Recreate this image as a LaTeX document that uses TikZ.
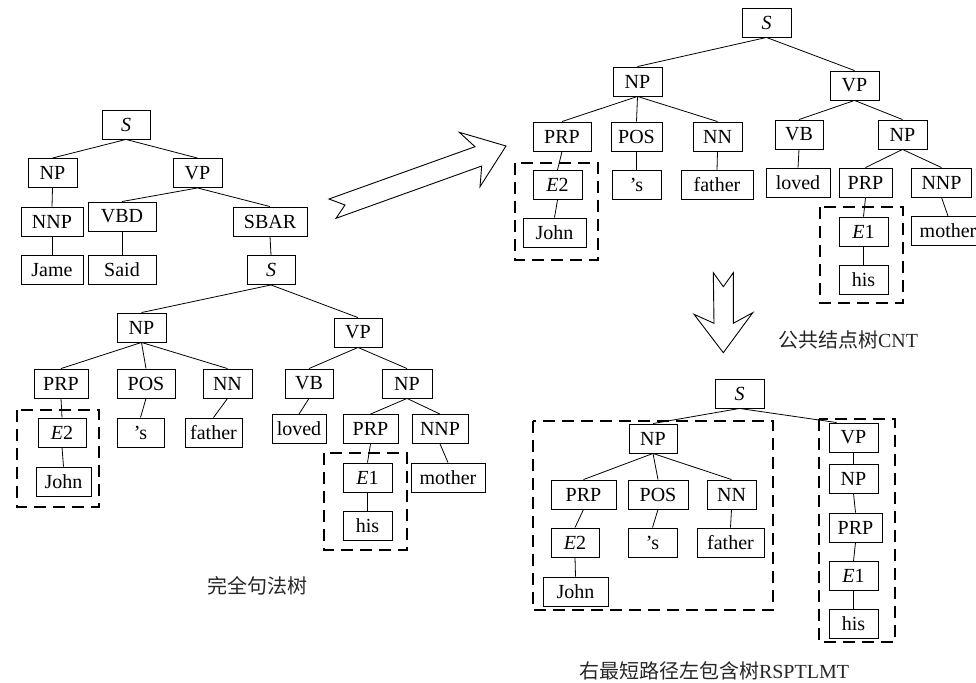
\documentclass[tikz,border=0pt]{standalone}
\usepackage{fontspec}
\setmainfont{Liberation Serif}
\newfontfamily\cjk{Noto Sans CJK SC}
\begin{document}
\begin{tikzpicture}[x=1pt,y=-1pt,
  bx/.style={draw=black,line width=0.9pt,minimum height=29pt,inner sep=0pt,
    font=\fontsize{20}{24}\selectfont,anchor=center},
  ln/.style={draw=black,line width=0.8pt},
  dbox/.style={draw=black,line width=2.4pt,dash pattern=on 12pt off 7pt},
  bigarrow/.style={draw=black,line width=0.9pt,fill=white,line join=miter},
  lbl/.style={font=\fontsize{20}{24}\selectfont,text=black!85,inner sep=0pt}]
\useasboundingbox (0,0) rectangle (976,682);
% ---------- left: full parse tree ----------
\node[bx,minimum width=48] (S1) at (126,124.5) {\textit{S}};
\node[bx,minimum width=49] (NP1) at (52.5,173) {NP};
\node[bx,minimum width=49] (VP1) at (197.5,173) {VP};
\node[bx,minimum width=62] (NNP1) at (52,221.5) {NNP};
\node[bx,minimum width=68] (VBD1) at (122,216.5) {VBD};
\node[bx,minimum width=74] (SBAR1) at (270,221.5) {SBAR};
\node[bx,minimum width=62] (Jame1) at (52,270) {Jame};
\node[bx,minimum width=68] (Said1) at (122,270) {Said};
\node[bx,minimum width=48] (S2) at (271,270) {\textit{S}};
\node[bx,minimum width=49] (NPa) at (141.5,327.5) {NP};
\node[bx,minimum width=48] (VPa) at (358,332.5) {VP};
\node[bx,minimum width=54] (PRPa) at (61,383.5) {PRP};
\node[bx,minimum width=58] (POSa) at (146,383.5) {POS};
\node[bx,minimum width=49] (NNa) at (227.5,383.5) {NN};
\node[bx,minimum width=48] (VBa) at (309,383.5) {VB};
\node[bx,minimum width=50] (NPb) at (407,383.5) {NP};
\node[bx,minimum width=48] (E2a) at (62,432.5) {\textit{E}2};
\node[bx,minimum width=47] (sa) at (140.5,432.5) {'s};
\node[bx,minimum width=57] (fathera) at (213.5,432.5) {father};
\node[bx,minimum width=54] (loveda) at (299,429) {loved};
\node[bx,minimum width=55] (PRPb) at (370.5,429) {PRP};
\node[bx,minimum width=56] (NNPb) at (440,429) {NNP};
\node[bx,minimum width=49] (E1a) at (367.5,477.5) {\textit{E}1};
\node[bx,minimum width=74] (mothera) at (448,477.5) {mother};
\node[bx,minimum width=55] (Johna) at (63.5,481.5) {John};
\node[bx,minimum width=49] (hisa) at (367.5,526) {his};
\foreach \p/\c in {S1/NP1,S1/VP1,NP1/NNP1,NNP1/Jame1,VP1/VBD1,VP1/SBAR1,VBD1/Said1,
  SBAR1/S2,S2/NPa,S2/VPa,NPa/PRPa,NPa/POSa,NPa/NNa,PRPa/E2a,E2a/Johna,POSa/sa,
  NNa/fathera,VPa/VBa,VPa/NPb,VBa/loveda,NPb/PRPb,NPb/NNPb,PRPb/E1a,E1a/hisa,NNPb/mothera}
  \draw[ln] (\p.south) -- (\c.north);
\draw[dbox] (17,410) rectangle (99,507);
\draw[dbox] (324,453) rectangle (407,550);
\node[lbl] (L1) at (257,586) {\cjk 完全句法树};
% ---------- big arrow ----------
\draw[bigarrow] (329,199) -- (475,146.7) -- (459.3,132.3) -- (506,146) -- (480,186.7)
  -- (481.7,166) -- (336,218.3) -- (345,205) -- cycle;
% ---------- top right: common node tree ----------
\node[bx,minimum width=49] (S3) at (766.5,22.5) {\textit{S}};
\node[bx,minimum width=49] (NP3) at (637.5,81.5) {NP};
\node[bx,minimum width=49] (VP3) at (854.5,85.5) {VP};
\node[bx,minimum width=58] (PRP3) at (562,136.5) {PRP};
\node[bx,minimum width=51] (POS3) at (636.5,136.5) {POS};
\node[bx,minimum width=49] (NN3) at (717.5,136.5) {NN};
\node[bx,minimum width=48] (VB3) at (799,134.5) {VB};
\node[bx,minimum width=49] (NP4) at (902.5,134.5) {NP};
\node[bx,minimum width=49] (E23) at (557.5,185) {\textit{E}2};
\node[bx,minimum width=49] (s3) at (636.5,185) {'s};
\node[bx,minimum width=72] (father3) at (717,185) {father};
\node[bx,minimum width=64] (loved3) at (798,182.5) {loved};
\node[bx,minimum width=53] (PRP4) at (865.5,182.5) {PRP};
\node[bx,minimum width=60] (NNP4) at (941.5,182.5) {NNP};
\node[bx,minimum width=63] (John3) at (554.5,232.5) {John};
\node[bx,minimum width=49] (E13) at (863.5,231.5) {\textit{E}1};
\node[bx,minimum width=73] (mother3) at (948,231) {mother};
\node[bx,minimum width=49] (his3) at (863.5,279.5) {his};
\foreach \p/\c in {S3/NP3,S3/VP3,NP3/PRP3,NP3/POS3,NP3/NN3,PRP3/E23,E23/John3,POS3/s3,
  NN3/father3,VP3/VB3,VP3/NP4,VB3/loved3,NP4/PRP4,NP4/NNP4,PRP4/E13,E13/his3,NNP4/mother3}
  \draw[ln] (\p.south) -- (\c.north);
\draw[dbox] (515,163) rectangle (598,260);
\draw[dbox] (820,207) rectangle (903,303);
% ---------- down arrow ----------
\draw[bigarrow] (713.3,272.7) -- (723.3,286.7) -- (733.3,272.7) -- (733.3,323.3)
  -- (752.7,312.7) -- (723.3,352.7) -- (694,314.3) -- (714,323.3) -- cycle;
\node[lbl] (L2) at (848,340) {{\cjk 公共结点树}CNT};
% ---------- bottom right: RSPTLMT ----------
\node[bx,minimum width=49] (S5) at (739.5,393.5) {\textit{S}};
\node[bx,minimum width=48] (NP5) at (653,438.5) {NP};
\node[bx,minimum width=65] (PRP5) at (583.5,494.5) {PRP};
\node[bx,minimum width=60] (POS5) at (658,494.5) {POS};
\node[bx,minimum width=49] (NN5) at (731.5,494.5) {NN};
\node[bx,minimum width=48] (E25) at (575,542.5) {\textit{E}2};
\node[bx,minimum width=49] (s5) at (652.5,542.5) {'s};
\node[bx,minimum width=67] (father5) at (730.5,542.5) {father};
\node[bx,minimum width=65] (John5) at (575.5,591.5) {John};
\node[bx,minimum width=49] (VP5) at (853.5,437.5) {VP};
\node[bx,minimum width=49] (NP6) at (853.5,478.5) {NP};
\node[bx,minimum width=53] (PRP6) at (855.5,527.5) {PRP};
\node[bx,minimum width=49] (E15) at (853.5,576) {\textit{E}1};
\node[bx,minimum width=49] (his5) at (853.5,623.5) {his};
\foreach \p/\c in {S5/NP5,NP5/PRP5,NP5/POS5,NP5/NN5,PRP5/E25,E25/John5,POS5/s5,
  NN5/father5,VP5/NP6,NP6/PRP6,PRP6/E15,E15/his5}
  \draw[ln] (\p.south) -- (\c.north);
\coordinate (VPin) at ([xshift=8pt]VP5.north west);
\draw[ln] (S5.south) -- (VPin);
\draw[dbox] (533,421) rectangle (773,610);
\draw[dbox] (819,419) rectangle (895,642);
\node[lbl] (L3) at (714,671) {{\cjk 右最短路径左包含树}RSPTLMT};
\end{tikzpicture}
\end{document}
